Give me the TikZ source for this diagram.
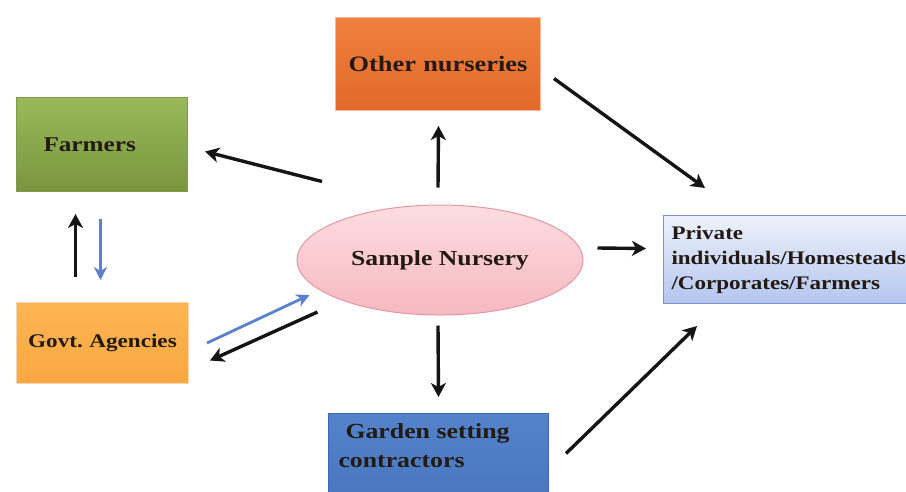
\documentclass[tikz,border=0pt]{standalone}
\usepackage{fontspec}
\setmainfont{Liberation Serif}[FakeStretch=1.2]
\usetikzlibrary{arrows.meta,calc,shapes.geometric}
\definecolor{txt}{HTML}{231A14}
\definecolor{arrblk}{HTML}{151515}
\definecolor{arrblu}{HTML}{5B80CC}
\definecolor{grnT}{HTML}{9ABA5A}
\definecolor{grnB}{HTML}{78953E}
\definecolor{grnD}{HTML}{7E9A4A}
\definecolor{orgT}{HTML}{F0803E}
\definecolor{orgB}{HTML}{E2692A}
\definecolor{orgD}{HTML}{F2B9A0}
\definecolor{yelT}{HTML}{FCB552}
\definecolor{yelB}{HTML}{F9A843}
\definecolor{yelD}{HTML}{F6D6B0}
\definecolor{pblT}{HTML}{EEF2FC}
\definecolor{pblB}{HTML}{B4C5EE}
\definecolor{pblD}{HTML}{7A92CF}
\definecolor{gblT}{HTML}{5383CB}
\definecolor{gblB}{HTML}{4874BD}
\definecolor{gblD}{HTML}{3F67AE}
\definecolor{pnkT}{HTML}{FCDDE0}
\definecolor{pnkB}{HTML}{F6B8C0}
\definecolor{pnkD}{HTML}{E497A3}
\begin{document}
\frenchspacing
\begin{tikzpicture}[x=1pt,y=-1pt,
  box/.style={rectangle, anchor=north west, text=txt, font=\bfseries, line width=1pt},
  arrk/.style={draw=arrblk, line width=3.4pt, -{Stealth[length=14pt,width=15pt,inset=4pt]}},
  arrb/.style={draw=arrblu, line width=2.8pt, -{Stealth[length=13pt,width=13pt,inset=4pt]}}]
\useasboundingbox (0,0) rectangle (906,491);
\clip (0,0) rectangle (906,491);

\node[box, draw=grnD, top color=grnT, bottom color=grnB,
  minimum width=171pt, minimum height=94pt, inner xsep=27pt, text width=117pt, align=left,
  font=\bfseries\fontsize{21}{25}\selectfont] (farmers) at (16,97) {Farmers};

\node[box, draw=orgD, top color=orgT, bottom color=orgB,
  minimum width=205pt, minimum height=93pt, inner xsep=5pt, text width=195pt, align=center,
  font=\bfseries\fontsize{22}{26}\selectfont] (other) at (335,17) {Other nurseries};

\node[ellipse, draw=pnkD, line width=1pt, top color=pnkT, bottom color=pnkB, text=txt,
  minimum width=286pt, minimum height=110pt, inner sep=0pt,
  font=\bfseries\fontsize{21.4}{25}\selectfont] (sample) at (440,260) {Sample Nursery};

\node[box, draw=pblD, top color=pblT, bottom color=pblB,
  minimum width=270pt, minimum height=88pt, inner xsep=8pt, text width=254pt, align=left,
  font=\bfseries\fontsize{19.2}{25}\selectfont] (private) at (663,215)
  {Private\\individuals/Homesteads\\/Corporates/Farmers};

\node[box, draw=yelD, top color=yelT, bottom color=yelB,
  minimum width=172pt, minimum height=81pt, inner xsep=4pt, text width=164pt, align=center,
  font=\bfseries\fontsize{19.3}{23}\selectfont] (govt) at (16,302) {Govt. Agencies};

\node[box, draw=gblD, top color=gblT, bottom color=gblB,
  minimum width=220pt, inner xsep=10pt, inner ysep=0pt] (garden) at (328,413)
  {\parbox[c][100pt][t]{200pt}{\vspace*{10pt}\raggedright\bfseries\fontsize{21.5}{29}\selectfont
   \hspace*{7pt}Garden setting\\contractors}};

% connectors
\draw[arrk] ($(sample.north)+(-118,-23)$) -- ($(farmers.east)+(17,7)$);
\draw[arrk] ($(sample.north)+(-2,-17)$) -- ($(other.south)+(0.5,15)$);
\draw[arrk] ($(other.east)+(13,14.5)$) -- ($(private.north west)+(42,-27)$);
\draw[arrk] ($(sample.east)+(14,-12)$) -- ($(private.west)+(-17,-11)$);
\draw[arrk] ($(sample.south)+(-2,10)$) -- ($(garden.north)+(0,-16)$);
\draw[arrk] ($(garden.east)+(17,-10)$) -- ($(private.south west)+(34,22)$);
\draw[arrk] ($(govt.north)+(-27,-25)$) -- ($(farmers.south)+(-26.5,22)$);
\draw[arrb] ($(farmers.south)+(-1.5,27)$) -- ($(govt.north)+(-2,-22)$);
\draw[arrb] ($(govt.east)+(18,0)$) -- ($(sample.west)+(13,35)$);
\draw[arrk] ($(sample.west)+(21,52)$) -- ($(govt.east)+(21,17.5)$);
\end{tikzpicture}
\end{document}
